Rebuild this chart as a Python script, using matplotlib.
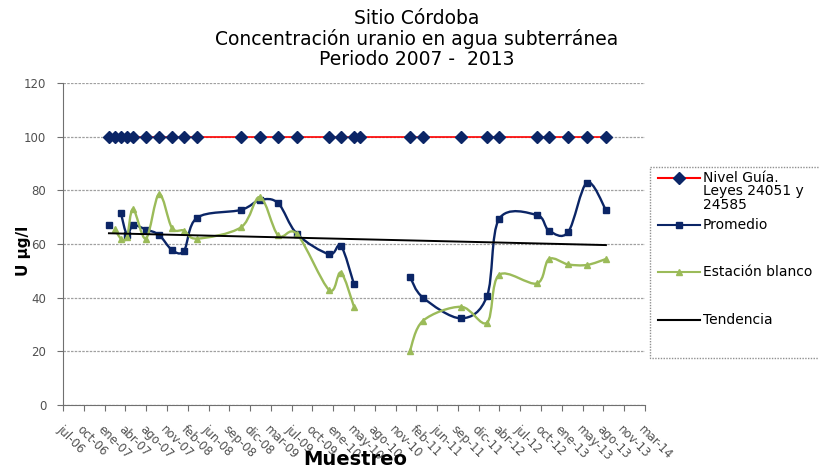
import numpy as np
import pandas as pd
import matplotlib
matplotlib.use("Agg")
import matplotlib.pyplot as plt
import matplotlib.dates as mdates
from matplotlib.path import Path
from matplotlib.patches import PathPatch, Rectangle

plt.rcParams["font.family"] = ["DejaVu Sans"]

# sampling dates
fechas = ["2007-02-07", "2007-03-08", "2007-04-06", "2007-05-05", "2007-06-03",
          "2007-08-04", "2007-10-06", "2007-12-07", "2008-02-03", "2008-04-06",
          "2008-11-03", "2009-02-03", "2009-05-01", "2009-07-31", "2010-01-01",
          "2010-02-27", "2010-05-01", "2010-05-30", "2011-01-25", "2011-03-29",
          "2011-09-28", "2012-01-31", "2012-03-29", "2012-09-27", "2012-11-24",
          "2013-02-24", "2013-05-26", "2013-08-25"]

nivel_guia = [100] * len(fechas)

promedio = [67.0, np.nan, 71.4, 63.4, 67.0, 65.4, 63.4, 57.8, 57.5, 69.8,
            72.7, 76.4, 75.2, 63.7, 56.2, 59.3, 45.0, np.nan, 47.8, 40.0,
            32.3, 40.6, 69.3, 70.8, 65.0, 64.4, 82.9, 72.7]

blanco = [np.nan, 65.5, 62.0, 62.5, 73.0, 62.0, 78.6, 66.0, 65.0, 62.0,
          66.2, 77.5, 63.2, 63.7, 42.9, 49.3, 36.6, np.nan, 20.2, 31.4,
          36.6, 30.7, 48.5, 45.3, 54.4, 52.4, 52.2, 54.4]

tend_fechas = ["2007-02-07", "2013-08-25"]
tendencia = [64.0, 59.6]

tick_labels = ["jul-06", "oct-06", "ene-07", "abr-07", "ago-07", "nov-07",
               "feb-08", "jun-08", "sep-08", "dic-08", "mar-09", "jul-09",
               "oct-09", "ene-10", "may-10", "ago-10", "nov-10", "feb-11",
               "jun-11", "sep-11", "dic-11", "abr-12", "jul-12", "oct-12",
               "ene-13", "may-13", "ago-13", "nov-13", "mar-14"]

NAVY = "#0b2566"
GREEN = "#9bbb59"


def smooth_path(xs, ys):
    # Excel-like smoothed line: cubic bezier through each point
    x = np.asarray(xs, float)
    y = np.asarray(ys, float)
    idx = np.flatnonzero(~np.isnan(y))
    runs = np.split(idx, np.flatnonzero(np.diff(idx) > 1) + 1)
    verts, codes = [], []
    for run in runs:
        if len(run) < 2:
            continue
        px, py = x[run], y[run]
        n = len(run)
        verts.append((px[0], py[0]))
        codes.append(Path.MOVETO)
        for i in range(n - 1):
            i0 = max(i - 1, 0)
            i3 = min(i + 2, n - 1)
            c1 = (px[i] + (px[i + 1] - px[i0]) / 6, py[i] + (py[i + 1] - py[i0]) / 6)
            c2 = (px[i + 1] - (px[i3] - px[i]) / 6, py[i + 1] - (py[i3] - py[i]) / 6)
            verts += [c1, c2, (px[i + 1], py[i + 1])]
            codes += [Path.CURVE4] * 3
    return Path(verts, codes)


x = mdates.date2num(pd.to_datetime(fechas))
xt = mdates.date2num(pd.to_datetime(tend_fechas))
ticks = mdates.date2num(pd.date_range("2006-07-01", periods=len(tick_labels), freq="100D"))

fig = plt.figure(figsize=(8.2, 4.68), dpi=100)
ax = fig.add_axes([63 / 820, 63 / 468, 582 / 820, 322 / 468])

ax.plot(x, nivel_guia, color="red", lw=1.2, zorder=2)
ax.plot(x, nivel_guia, ls="none", marker="D", ms=6, color=NAVY, zorder=3)

ax.add_patch(PathPatch(smooth_path(x, promedio), fill=False, ec=NAVY, lw=1.7, zorder=4))
ax.plot(x, promedio, ls="none", marker="s", ms=4.5, color=NAVY, zorder=4)

ax.add_patch(PathPatch(smooth_path(x, blanco), fill=False, ec=GREEN, lw=1.7, zorder=5))
ax.plot(x, blanco, ls="none", marker="^", ms=4, color=GREEN, zorder=5)

ax.plot(xt, tendencia, color="black", lw=1.4, zorder=6)

ax.set_xlim(ticks[0], ticks[-1])
ax.set_ylim(0, 120)
ax.set_yticks(range(0, 121, 20))
ax.yaxis.grid(True, color="#a0a0a0", ls=(0, (2, 1)), lw=0.9)
ax.set_axisbelow(True)

for s in ["top", "right"]:
    ax.spines[s].set_visible(False)
for s in ["left", "bottom"]:
    ax.spines[s].set_color("#707070")
    ax.spines[s].set_linestyle((0, (2, 1)))

ax.set_xticks(ticks)
ax.set_xticklabels(tick_labels)
ax.tick_params(axis="both", direction="out", length=4, color="#707070",
               labelsize=8.5, labelcolor="#505050")
ax.tick_params(axis="y", pad=8)
ax.tick_params(axis="x", pad=9)
plt.setp(ax.get_xticklabels(), rotation=-45, ha="left", va="top",
         rotation_mode="anchor")

ax.set_ylabel("U µg/l", fontsize=11, fontweight="bold")
ax.yaxis.set_label_coords(-0.055, 0.48)
ax.set_xlabel("Muestreo", fontsize=14, fontweight="bold")
ax.xaxis.set_label_coords(0.502, -0.14)

fig.text(417 / 820, 1 - 9 / 468,
         "Sitio Córdoba\nConcentración uranio en agua subterránea\nPeriodo 2007 -  2013",
         ha="center", va="top", fontsize=13.5, linespacing=1.05)

# legend box
lax = fig.add_axes([650 / 820, (468 - 358) / 468, 180 / 820, 191 / 468])
lax.set_xlim(0, 180)
lax.set_ylim(191, 0)
lax.axis("off")
lax.add_patch(Rectangle((0, 0), 180, 191, fill=False, ec="#909090",
                        ls=(0, (1, 1)), lw=1, clip_on=False))

entries = [
    ("Nivel Guía.\nLeyes 24051 y\n24585", "red", "D", NAVY, 11, 6),
    ("Promedio", NAVY, "s", NAVY, 58, 4.5),
    ("Estación blanco", GREEN, "^", GREEN, 105, 4),
    ("Tendencia", "black", None, None, 153, 0),
]
for label, lc, mk, mc, yy, ms in entries:
    lax.plot([8, 50], [yy, yy], color=lc, lw=1.5)
    if mk:
        lax.plot([29], [yy], marker=mk, ms=ms, color=mc, ls="none")
    if "\n" in label:
        lax.text(53, yy - 7, label, fontsize=10, va="top", ha="left",
                 linespacing=0.95)
    else:
        lax.text(53, yy, label, fontsize=10, va="center", ha="left")

fig.savefig("out.png", dpi=100)
